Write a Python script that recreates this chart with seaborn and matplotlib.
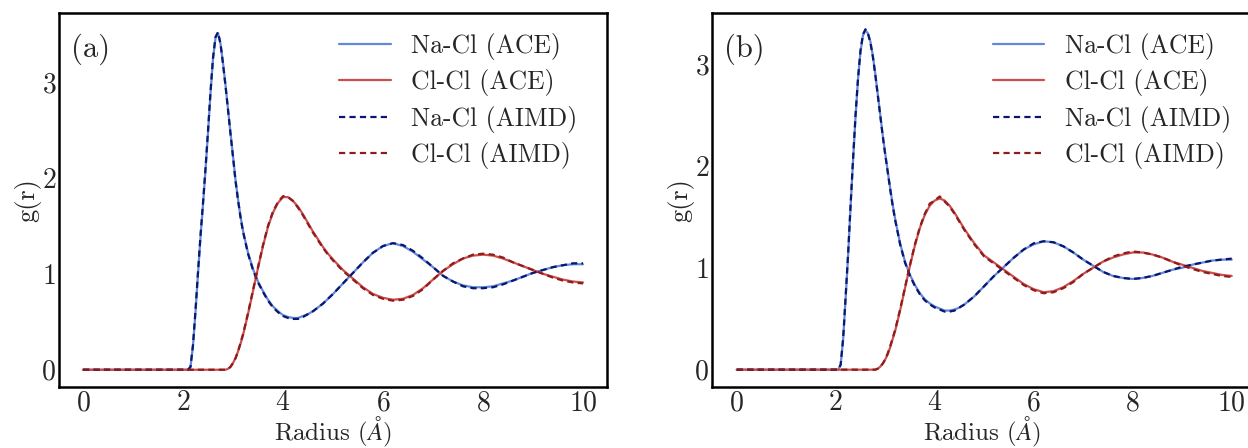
import numpy as np
import pandas as pd
import matplotlib
matplotlib.use("Agg")
import matplotlib.pyplot as plt
import seaborn as sns

# radius grid (Angstrom), finer around the first peaks
r = [0.0, 1.0, 2.00, 2.05, 2.10, 2.15, 2.20, 2.25, 2.30, 2.35, 2.40, 2.45, 2.50, 2.55,
     2.60, 2.65, 2.70, 2.75, 2.80, 2.85, 2.90, 2.95, 3.00, 3.05, 3.10, 3.15, 3.20,
     3.3, 3.4, 3.5, 3.6, 3.7, 3.8, 3.9, 4.0, 4.1, 4.2, 4.3, 4.4, 4.5, 4.6, 4.7, 4.8, 4.9, 5.0,
     5.2, 5.4, 5.6, 5.8, 6.0, 6.2, 6.4, 6.6, 6.8, 7.0, 7.2, 7.4, 7.6, 7.8, 8.0,
     8.2, 8.4, 8.6, 8.8, 9.0, 9.2, 9.4, 9.6, 9.8, 10.0]

# panel (a)
a_nacl_ace = [0, 0, 0, 0, 0, 0.03, 0.25, 0.60, 1.00, 1.38, 1.72, 2.08, 2.47, 2.88,
              3.24, 3.46, 3.51, 3.40, 3.20, 2.97, 2.72, 2.47, 2.23, 1.98, 1.78, 1.60, 1.45,
              1.22, 1.05, 0.92, 0.82, 0.73, 0.66, 0.61, 0.57, 0.55, 0.54, 0.54, 0.56, 0.58, 0.61, 0.65, 0.69, 0.74, 0.79,
              0.90, 1.01, 1.12, 1.22, 1.29, 1.32, 1.29, 1.23, 1.15, 1.07, 0.98, 0.92, 0.88, 0.86, 0.86,
              0.87, 0.90, 0.93, 0.97, 1.01, 1.04, 1.07, 1.09, 1.10, 1.10]
a_clcl_ace = [0, 0, 0, 0, 0, 0, 0, 0, 0, 0, 0, 0, 0, 0,
              0, 0, 0, 0, 0, 0.00, 0.01, 0.03, 0.07, 0.12, 0.19, 0.27, 0.36,
              0.58, 0.82, 1.06, 1.29, 1.49, 1.64, 1.74, 1.80, 1.80, 1.76, 1.70, 1.62, 1.53, 1.44, 1.36, 1.28, 1.21, 1.15,
              1.04, 0.95, 0.86, 0.79, 0.75, 0.73, 0.74, 0.78, 0.85, 0.94, 1.03, 1.10, 1.16, 1.19, 1.20,
              1.19, 1.16, 1.12, 1.08, 1.04, 1.00, 0.97, 0.94, 0.92, 0.91]
a_nacl_aimd = [0, 0, 0, 0, 0, 0.03, 0.26, 0.62, 1.02, 1.40, 1.74, 2.10, 2.49, 2.90,
               3.25, 3.47, 3.52, 3.40, 3.19, 2.96, 2.71, 2.46, 2.22, 1.97, 1.77, 1.59, 1.44,
               1.21, 1.04, 0.91, 0.81, 0.72, 0.65, 0.60, 0.56, 0.54, 0.53, 0.53, 0.55, 0.58, 0.61, 0.65, 0.69, 0.74, 0.79,
               0.90, 1.01, 1.12, 1.22, 1.29, 1.32, 1.30, 1.24, 1.16, 1.07, 0.98, 0.92, 0.87, 0.85, 0.85,
               0.86, 0.89, 0.93, 0.97, 1.01, 1.04, 1.07, 1.09, 1.11, 1.11]
a_clcl_aimd = [0, 0, 0, 0, 0, 0, 0, 0, 0, 0, 0, 0, 0, 0,
               0, 0, 0, 0, 0, 0.00, 0.01, 0.03, 0.07, 0.12, 0.19, 0.28, 0.37,
               0.59, 0.83, 1.07, 1.30, 1.50, 1.65, 1.75, 1.81, 1.80, 1.76, 1.69, 1.61, 1.52, 1.43, 1.35, 1.27, 1.20, 1.14,
               1.03, 0.94, 0.85, 0.78, 0.74, 0.72, 0.73, 0.77, 0.84, 0.94, 1.03, 1.11, 1.16, 1.20, 1.21,
               1.20, 1.17, 1.12, 1.08, 1.04, 1.00, 0.96, 0.93, 0.91, 0.90]

# panel (b)
b_nacl_ace = [0, 0, 0, 0, 0.05, 0.30, 0.70, 1.12, 1.60, 2.05, 2.48, 2.85, 3.12, 3.28,
              3.33, 3.30, 3.22, 3.08, 2.90, 2.70, 2.50, 2.30, 2.12, 1.95, 1.78, 1.62, 1.48,
              1.24, 1.06, 0.93, 0.83, 0.75, 0.69, 0.65, 0.62, 0.60, 0.58, 0.58, 0.59, 0.61, 0.64, 0.68, 0.72, 0.77, 0.82,
              0.92, 1.01, 1.10, 1.18, 1.23, 1.26, 1.25, 1.21, 1.15, 1.08, 1.02, 0.96, 0.92, 0.90, 0.89,
              0.90, 0.92, 0.95, 0.98, 1.00, 1.03, 1.05, 1.07, 1.08, 1.08]
b_clcl_ace = [0, 0, 0, 0, 0, 0, 0, 0, 0, 0, 0, 0, 0, 0,
              0, 0, 0, 0, 0, 0.01, 0.03, 0.06, 0.10, 0.15, 0.22, 0.30, 0.38,
              0.58, 0.80, 1.02, 1.22, 1.39, 1.52, 1.61, 1.66, 1.68, 1.66, 1.61, 1.54, 1.46, 1.38, 1.31, 1.24, 1.18, 1.12,
              1.05, 0.98, 0.91, 0.84, 0.79, 0.76, 0.77, 0.81, 0.87, 0.94, 1.00, 1.06, 1.10, 1.13, 1.15,
              1.15, 1.13, 1.10, 1.06, 1.03, 1.00, 0.97, 0.95, 0.93, 0.92]
b_nacl_aimd = [0, 0, 0, 0, 0.05, 0.31, 0.72, 1.14, 1.62, 2.07, 2.50, 2.86, 3.13, 3.29,
               3.34, 3.30, 3.21, 3.07, 2.89, 2.69, 2.49, 2.29, 2.11, 1.94, 1.77, 1.61, 1.47,
               1.23, 1.05, 0.92, 0.82, 0.74, 0.68, 0.64, 0.61, 0.59, 0.57, 0.57, 0.58, 0.61, 0.64, 0.68, 0.72, 0.77, 0.82,
               0.92, 1.01, 1.10, 1.18, 1.24, 1.26, 1.25, 1.21, 1.15, 1.08, 1.02, 0.96, 0.92, 0.90, 0.89,
               0.90, 0.92, 0.95, 0.98, 1.01, 1.03, 1.05, 1.07, 1.08, 1.09]
b_clcl_aimd = [0, 0, 0, 0, 0, 0, 0, 0, 0, 0, 0, 0, 0, 0,
               0, 0, 0, 0, 0, 0.01, 0.03, 0.06, 0.10, 0.16, 0.23, 0.31, 0.39,
               0.59, 0.81, 1.03, 1.23, 1.40, 1.53, 1.63, 1.66, 1.70, 1.65, 1.60, 1.53, 1.45, 1.37, 1.30, 1.23, 1.17, 1.11,
               1.04, 0.97, 0.90, 0.83, 0.78, 0.75, 0.76, 0.80, 0.86, 0.94, 1.00, 1.06, 1.11, 1.14, 1.16,
               1.15, 1.13, 1.10, 1.06, 1.02, 0.99, 0.96, 0.94, 0.92, 0.91]

labels = ["Na-Cl (ACE)", "Cl-Cl (ACE)", "Na-Cl (AIMD)", "Cl-Cl (AIMD)"]
colors = ["#6089d6", "#cc4f4e", "#0b1670", "#8e1c1c"]

sns.set_style("white")
plt.rcParams["font.family"] = "serif"
plt.rcParams["font.serif"] = ["cmr10", "DejaVu Serif"]
plt.rcParams["mathtext.fontset"] = "cm"
plt.rcParams["axes.unicode_minus"] = False
plt.rcParams["axes.formatter.use_mathtext"] = True

fig = plt.figure(figsize=(12.48, 4.48), dpi=100)
ax_a = fig.add_axes([59 / 1248, 61 / 448, 548 / 1248, 374 / 448])
ax_b = fig.add_axes([712 / 1248, 61 / 448, 540 / 1248, 374 / 448])

# (axes, tag, series, xlim, ylim, legend anchor)
panels = [
    (ax_a, "(a)", [a_nacl_ace, a_clcl_ace, a_nacl_aimd, a_clcl_aimd], (-0.48, 10.48), (-0.18, 3.72), (0.965, 0.975)),
    (ax_b, "(b)", [b_nacl_ace, b_clcl_ace, b_nacl_aimd, b_clcl_aimd], (-0.50, 10.41), (-0.17, 3.50), (0.98, 0.975)),
]

for ax, tag, series, xlim, ylim, anchor in panels:
    for i, (vals, lab, col) in enumerate(zip(series, labels, colors)):
        assert len(vals) == len(r)
        ls = "-" if i < 2 else (0, (2.8, 1.9))
        sns.lineplot(x=r, y=vals, ax=ax, color=col, lw=1.6, linestyle=ls, label=lab)
    ax.set_xlim(*xlim)
    ax.set_ylim(*ylim)
    ax.set_xticks([0, 2, 4, 6, 8, 10])
    ax.set_yticks([0, 1, 2, 3])
    ax.tick_params(axis="x", labelsize=20, length=0, pad=2)
    ax.tick_params(axis="y", labelsize=20, length=0, pad=2)
    ax.set_xlabel(r"Radius ($\AA$)", fontsize=18, labelpad=-1)
    ax.set_ylabel("g(r)", fontsize=19, labelpad=0)
    for sp in ax.spines.values():
        sp.set_color("black")
        sp.set_linewidth(1.8)
    ax.text(0.022, 0.904, tag, transform=ax.transAxes, fontsize=22, va="center", ha="left")
    ax.legend(loc="upper right", bbox_to_anchor=anchor, borderaxespad=0,
              frameon=False, fontsize=18.5, handlelength=2.0, handletextpad=0.8,
              labelspacing=0.37)

fig.savefig("out.png", dpi=100)
